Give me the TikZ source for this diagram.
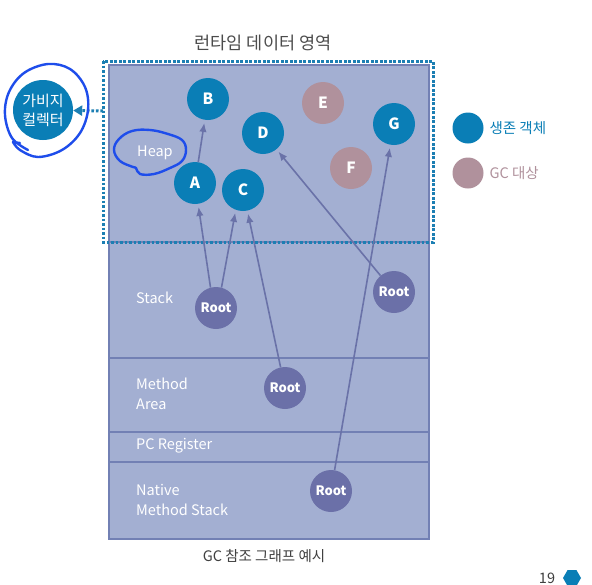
\documentclass[tikz,border=0pt]{standalone}
\usepackage{fontspec}
\setmainfont{Noto Sans CJK KR}
\usetikzlibrary{arrows.meta,shapes.geometric}
\definecolor{areafill}{HTML}{A3AFD2}
\definecolor{arealine}{HTML}{7280B4}
\definecolor{live}{HTML}{0A7EB6}
\definecolor{dead}{HTML}{B0919C}
\definecolor{rootc}{HTML}{6B70A8}
\definecolor{edgec}{HTML}{6A72A8}
\definecolor{pen}{HTML}{1E4DEB}
\definecolor{dots}{HTML}{1C7FB3}

\begin{document}
\begin{tikzpicture}[x=1pt, y=-1pt, every node/.style={font=\fontsize{14.5}{20}\selectfont},
	>={Latex[length=9pt,width=7.5pt]},
	obj/.style={circle, fill=live, minimum size=42pt, inner sep=0pt, text=white, font=\fontsize{15.5}{17}\selectfont\bfseries},
	garbage/.style={obj, fill=dead},
	root/.style={circle, fill=rootc, minimum size=42pt, inner sep=0pt, text=white, font=\fontsize{13}{15}\selectfont\bfseries},
	area/.style={text=white, align=left, anchor=west, inner sep=0pt},
	ref/.style={->, edgec, line width=1.6pt, shorten >=3pt},
	dotline/.style={dots, line width=3pt, dash pattern=on 2.6pt off 1.9pt}]
	\useasboundingbox (0,0) rectangle (592,584);
	\fill[white] (0,0) rectangle (592,584);
	% runtime data area
	\fill[areafill] (109,65) rectangle (429,539);
	\draw[arealine, line width=1.3pt] (109,65) rectangle (429,539);
	\foreach \y in {242,358,432,462} \draw[arealine, line width=1.3pt] (109,\y) -- (429,\y);
	\draw[dotline] (103,61) rectangle (433,242);
	\node[text=black!70] (title) at (263,43) {\fontsize{17.5}{20}\selectfont 런타임 데이터 영역};
	\node[area] (heap) at (137,153) {Heap};
	\node[area] (stack) at (136,298) {Stack};
	\node[area] (method) at (136,394) {Method\\Area};
	\node[area] (pc) at (136,446) {PC Register};
	\node[area] (native) at (136,500) {Native\\Method Stack};
	% objects
	\node[obj] (b) at (208,99) {B};
	\node[obj] (d) at (263,133) {D};
	\node[garbage] (e) at (323,103) {E};
	\node[obj] (g) at (394,124) {G};
	\node[garbage] (f) at (351,168) {F};
	\node[obj] (a) at (195,183) {A};
	\node[obj] (c) at (243,190) {C};
	\node[root] (r1) at (216,308) {Root};
	\node[root] (r2) at (394,292) {Root};
	\node[root] (r3) at (285,388) {Root};
	\node[root] (r4) at (331,491) {Root};
	\draw[ref] (r1.105) -- (a);
	\draw[ref] (r1.75) -- (c.250);
	\draw[ref] (r3) -- (c);
	\draw[ref] (r2) -- (d);
	\draw[ref] (r4) -- (g);
	\draw[ref] (a) -- (b);
	% garbage collector
	\node[circle, fill=live, minimum size=60pt, inner sep=0pt, text=white, align=center,
		font=\fontsize{15}{19}\selectfont] (gc) at (43,110) {가비지\\컬렉터};
	\coordinate (port) at (103,111);
	\draw[dotline, -{Triangle[length=9pt,width=10pt,fill=dots]}] (port) -- (gc);
	% pen marks
	\draw[pen, line width=2.4pt, line cap=round, line join=round] plot[smooth cycle, tension=0.65] coordinates {
		(133,167) (120,161) (114,150) (119,139) (132,131) (150,130) (168,134) (182,140) (186,150)
		(182,161) (170,168) (154,174) (140,174) (136,168)};
	\draw[pen, line width=2.4pt, line cap=round, line join=round] plot[smooth, tension=0.6] coordinates {
		(28,150) (12,138) (5,115) (9,92) (24,73) (48,64) (70,69) (85,87) (88,110) (80,133) (62,150)
		(38,157) (20,150) (13,142)} -- (20,143);
	% legend
	\node[circle, fill=live, minimum size=31pt, inner sep=0pt] (keylive) at (468,128) {};
	\node[anchor=west, text=live] (livetxt) at (486,128) {생존 객체};
	\node[circle, fill=dead, minimum size=31pt, inner sep=0pt] (keydead) at (468,173) {};
	\node[anchor=west, text=dead] (deadtxt) at (486,173) {GC 대상};
	% caption and page
	\node[text=black!75] (caption) at (264,556) {GC 참조 그래프 예시};
	\node[text=black!75] (page) at (547,578) {19};
	\node[regular polygon, regular polygon sides=6, fill=live, minimum size=18pt, inner sep=0pt] (logo) at (572,578) {};
\end{tikzpicture}
\end{document}
